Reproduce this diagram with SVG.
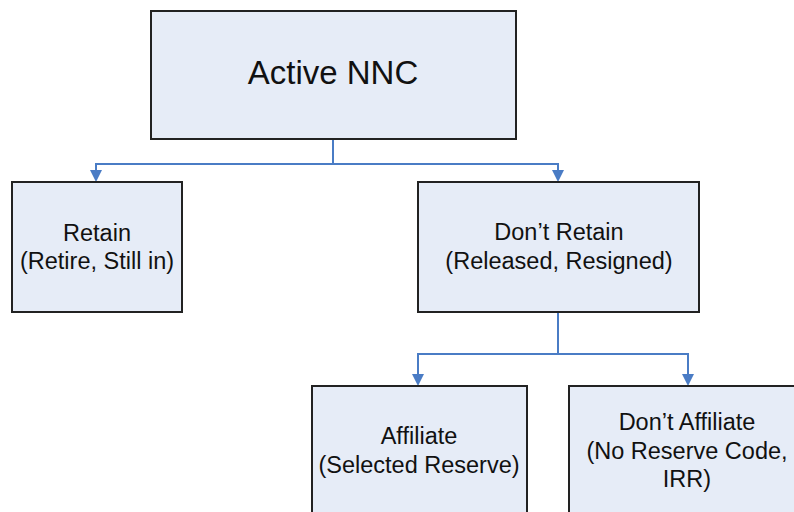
<svg xmlns="http://www.w3.org/2000/svg" width="794" height="512" viewBox="0 0 794 512">
<defs>
<style>
.box{fill:#E6ECF7;stroke:#222;stroke-width:2}
.t{font-family:"Liberation Sans",Arial,sans-serif;font-size:23.5px;fill:#111;text-anchor:middle}
.big{font-size:33px}
.c{fill:none;stroke:#4A7CC5;stroke-width:2}
.ah{fill:#4A7CC5}
</style>
</defs>
<rect width="794" height="512" fill="#fff"/>
<g id="connectors">
<path class="c" d="M333,139 V164 H96 V170"/>
<path class="c" d="M333,164 H558 V170"/>
<path class="c" d="M558,312 V354 H418 V375"/>
<path class="c" d="M558,354 H688 V375"/>
<path class="ah" d="M90,170 L102,170 L96,182 Z"/>
<path class="ah" d="M552,170 L564,170 L558,182 Z"/>
<path class="ah" d="M412,374 L424,374 L418,386 Z"/>
<path class="ah" d="M682,374 L694,374 L688,386 Z"/>
</g>
<g id="active">
<rect class="box" x="151" y="11" width="365" height="128"/>
<text class="t big" x="333" y="84">Active NNC</text>
</g>
<g id="retain">
<rect class="box" x="12" y="182" width="170" height="130"/>
<text class="t" x="97" y="241">Retain</text>
<text class="t" x="97" y="269">(Retire, Still in)</text>
</g>
<g id="dontretain">
<rect class="box" x="418" y="182" width="281" height="130"/>
<text class="t" x="559" y="240">Don’t Retain</text>
<text class="t" x="559" y="269">(Released, Resigned)</text>
</g>
<g id="affiliate">
<rect class="box" x="312" y="386" width="215" height="140"/>
<text class="t" x="419" y="444">Affiliate</text>
<text class="t" x="419" y="473">(Selected Reserve)</text>
</g>
<g id="dontaffiliate">
<rect class="box" x="569" y="386" width="240" height="140"/>
<text class="t" x="687" y="430">Don’t Affiliate</text>
<text class="t" x="687" y="459">(No Reserve Code,</text>
<text class="t" x="687" y="487">IRR)</text>
</g>
</svg>
